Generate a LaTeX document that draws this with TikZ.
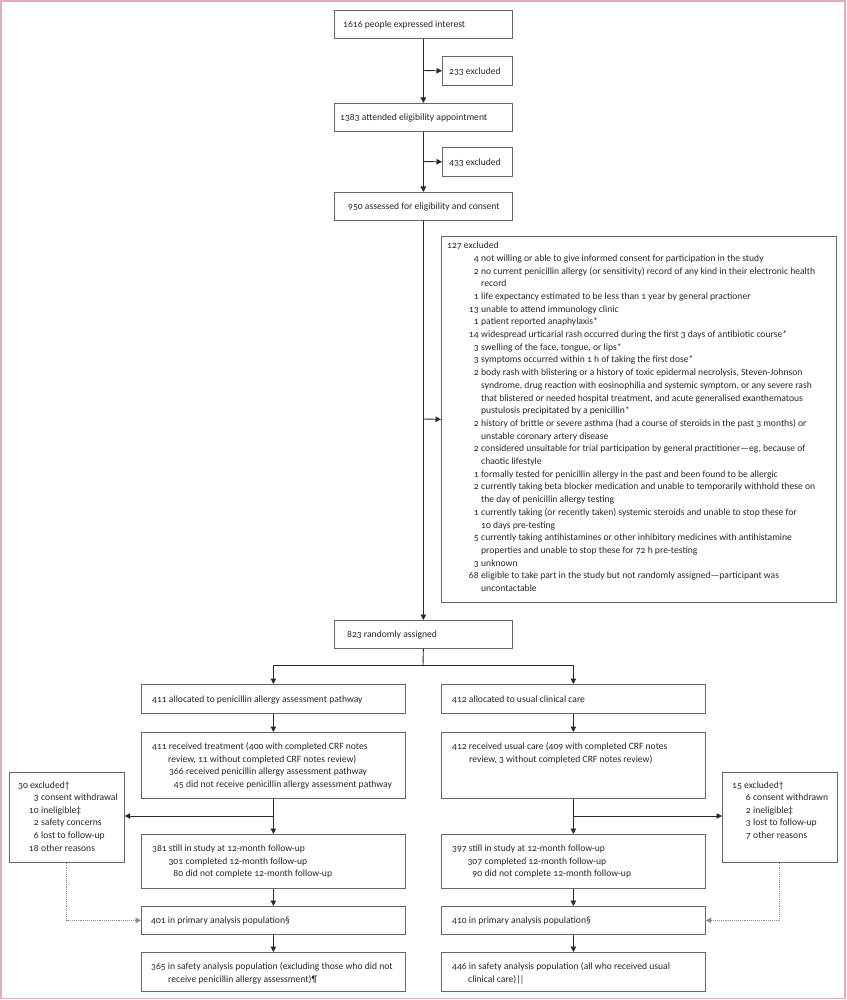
\documentclass[tikz,border=0pt]{standalone}
\usepackage{fontspec}
\setmainfont{Carlito}[Numbers=OldStyle]
\usetikzlibrary{arrows.meta,calc}
\definecolor{framec}{HTML}{E2A9C1}
\definecolor{boxc}{HTML}{666666}
\definecolor{txtc}{HTML}{262626}
\definecolor{linec}{HTML}{2A2A2A}
\definecolor{dotc}{HTML}{8A8A8A}
\newcommand{\nb}[2]{\makebox[#1][r]{#2}\hspace{2.5pt}}
\newcommand{\ind}[1]{\hspace*{#1}}
\newcommand{\fs}{\rule{0pt}{8pt}}
\begin{document}
\begin{tikzpicture}[x=1pt,y=-1pt,
  box/.style={draw=boxc, line width=0.7pt, anchor=north west, inner sep=0pt},
  txt/.style={anchor=north west, inner sep=0pt, align=left, text=txtc, font=\fontsize{9.6}{12.6}\selectfont},
  bigtxt/.style={txt, font=\fontsize{9.6}{12.7}\selectfont},
  arr/.style={draw=linec, line width=0.9pt, -{Triangle[length=5.5pt,width=5.5pt]}},
  ln/.style={draw=linec, line width=0.9pt},
  dotarr/.style={draw=dotc, line width=0.9pt, densely dotted, -{Triangle[length=5.5pt,width=5.5pt]}}]
\useasboundingbox (0,0) rectangle (846,1000);
\draw[draw=framec, line width=1.2pt] (1,1) rectangle (845,998.5);

% boxes
\node[box, minimum width=178pt, minimum height=28pt] (A) at (334,10) {};
\node[box, minimum width=70pt, minimum height=29pt] (E1) at (442,56) {};
\node[box, minimum width=178pt, minimum height=28pt] (B) at (334,103) {};
\node[box, minimum width=70pt, minimum height=29pt] (E2) at (442,147) {};
\node[box, minimum width=178pt, minimum height=28pt] (C) at (334,192) {};
\node[box, minimum width=395pt, minimum height=366pt] (E3) at (441,236) {};
\node[box, minimum width=178pt, minimum height=28pt] (D) at (334,620) {};
\node[box, minimum width=264pt, minimum height=29pt] (L1) at (141,684) {};
\node[box, minimum width=264pt, minimum height=29pt] (R1) at (441,684) {};
\node[box, minimum width=264pt, minimum height=66pt] (L2) at (141,732) {};
\node[box, minimum width=264pt, minimum height=66pt] (R2) at (441,732) {};
\node[box, minimum width=115pt, minimum height=90pt] (LX) at (9,772) {};
\node[box, minimum width=115pt, minimum height=90pt] (RX) at (722,772) {};
\node[box, minimum width=264pt, minimum height=54pt] (L3) at (141,834) {};
\node[box, minimum width=264pt, minimum height=54pt] (R3) at (441,834) {};
\node[box, minimum width=264pt, minimum height=28pt] (L4) at (141,906) {};
\node[box, minimum width=264pt, minimum height=28pt] (R4) at (441,906) {};
\node[box, minimum width=264pt, minimum height=39pt] (L5) at (141,952) {};
\node[box, minimum width=264pt, minimum height=39pt] (R5) at (441,952) {};

% texts
\node[txt] (tA) at (343,19.4) {\fs 1616 people expressed interest};
\node[txt] (tE1) at (449,65.9) {\fs 233 excluded};
\node[txt] (tB) at (340,112.4) {\fs 1383 attended eligibility appointment};
\node[txt] (tE2) at (449,156.9) {\fs 433 excluded};
\node[txt] (tC) at (348,201.4) {\fs 950 assessed for eligibility and consent};
\node[bigtxt] (tE3) at (447,240.4) {\fs 127 excluded\\
\nb{31.5pt}{4}not willing or able to give informed consent for participation in the study\\
\nb{31.5pt}{2}no current penicillin allergy (or sensitivity) record of any kind in their electronic health\\
\ind{34pt}record\\
\nb{31.5pt}{1}life expectancy estimated to be less than 1 year by general practioner\\
\nb{31.5pt}{13}unable to attend immunology clinic\\
\nb{31.5pt}{1}patient reported anaphylaxis*\\
\nb{31.5pt}{14}widespread urticarial rash occurred during the first 3 days of antibiotic course*\\
\nb{31.5pt}{3}swelling of the face, tongue, or lips*\\
\nb{31.5pt}{3}symptoms occurred within 1 h of taking the first dose*\\
\nb{31.5pt}{2}body rash with blistering or a history of toxic epidermal necrolysis, Steven-Johnson\\
\ind{34pt}syndrome, drug reaction with eosinophilia and systemic symptom, or any severe rash\\
\ind{34pt}that blistered or needed hospital treatment, and acute generalised exanthematous\\
\ind{34pt}pustulosis precipitated by a penicillin*\\
\nb{31.5pt}{2}history of brittle or severe asthma (had a course of steroids in the past 3 months) or\\
\ind{34pt}unstable coronary artery disease\\
\nb{31.5pt}{2}considered unsuitable for trial participation by general practitioner—eg, because of\\
\ind{34pt}chaotic lifestyle\\
\nb{31.5pt}{1}formally tested for penicillin allergy in the past and been found to be allergic\\
\nb{31.5pt}{2}currently taking beta blocker medication and unable to temporarily withhold these on\\
\ind{34pt}the day of penicillin allergy testing\\
\nb{31.5pt}{1}currently taking (or recently taken) systemic steroids and unable to stop these for\\
\ind{34pt}10 days pre-testing\\
\nb{31.5pt}{5}currently taking antihistamines or other inhibitory medicines with antihistamine\\
\ind{34pt}properties and unable to stop these for 72 h pre-testing\\
\nb{31.5pt}{3}unknown\\
\nb{31.5pt}{68}eligible to take part in the study but not randomly assigned—participant was\\
\ind{34pt}uncontactable};
\node[txt] (tD) at (347,629.4) {\fs 823 randomly assigned};
\node[txt] (tL1) at (152,693.9) {\fs 411 allocated to penicillin allergy assessment pathway};
\node[txt] (tR1) at (452,693.9) {\fs 412 allocated to usual clinical care};
\node[txt] (tL2) at (152,741.4) {\fs 411 received treatment (400 with completed CRF notes\\
\ind{16pt}review, 11 without completed CRF notes review)\\
\nb{31.5pt}{366}received penicillin allergy assessment pathway\\
\nb{31.5pt}{45}did not receive penicillin allergy assessment pathway};
\node[txt] (tR2) at (452,741.4) {\fs 412 received usual care (409 with completed CRF notes\\
\ind{17pt}review, 3 without completed CRF notes review)};
\node[txt] (tLX) at (18,779.9) {\fs 30 excluded†\\
\nb{20.5pt}{3}consent withdrawal\\
\nb{20.5pt}{10}ineligible‡\\
\nb{20.5pt}{2}safety concerns\\
\nb{20.5pt}{6}lost to follow-up\\
\nb{20.5pt}{18}other reasons};
\node[txt] (tRX) at (732,779.9) {\fs 15 excluded†\\
\nb{18.5pt}{6}consent withdrawn\\
\nb{18.5pt}{2}ineligible‡\\
\nb{18.5pt}{3}lost to follow-up\\
\nb{18.5pt}{7}other reasons};
\node[txt] (tL3) at (152,843.4) {\fs 381 still in study at 12-month follow-up\\
\nb{31pt}{301}completed 12-month follow-up\\
\nb{31pt}{80}did not complete 12-month follow-up};
\node[txt] (tR3) at (452,843.4) {\fs 397 still in study at 12-month follow-up\\
\nb{30pt}{307}completed 12-month follow-up\\
\nb{30pt}{90}did not complete 12-month follow-up};
\node[txt] (tL4) at (151,915.4) {\fs 401 in primary analysis population§};
\node[txt] (tR4) at (452,915.4) {\fs 410 in primary analysis population§};
\node[txt] (tL5) at (151,961.4) {\fs 365 in safety analysis population (excluding those who did not\\
\ind{17pt}receive penicillin allergy assessment)¶};
\node[txt] (tR5) at (452,961.4) {\fs 446 in safety analysis population (all who received usual\\
\ind{16pt}clinical care)|\kern-0.9pt|};

% connectors
\coordinate (j1) at (423,70.5);
\coordinate (j2) at (423,161.5);
\coordinate (j3) at (423,419);
\coordinate (j4) at (423,665);
\coordinate (j5) at (273,816);
\coordinate (j6) at (573,816);
\draw[arr] (A.south) -- (B.north);
\draw[arr] (j1) -- (E1.west);
\draw[arr] (B.south) -- (C.north);
\draw[arr] (j2) -- (E2.west);
\draw[arr] (C.south) -- (D.north);
\draw[arr] (j3) -- (E3.west);
\draw[ln] (D.south) -- (j4);
\draw[arr] (j4) -| (L1.north);
\draw[arr] (j4) -| (R1.north);
\draw[arr] (L1.south) -- (L2.north);
\draw[arr] (R1.south) -- (R2.north);
\draw[arr] (L2.south) -- (L3.north);
\draw[arr] (R2.south) -- (R3.north);
\draw[arr] (j5) -- (j5 -| LX.east);
\draw[arr] (j6) -- (j6 -| RX.west);
\draw[arr] (L3.south) -- (L4.north);
\draw[arr] (R3.south) -- (R4.north);
\draw[arr] (L4.south) -- (L5.north);
\draw[arr] (R4.south) -- (R5.north);
\draw[dotarr] (LX.south) |- (L4.west);
\draw[dotarr] (RX.south) |- (R4.east);
\end{tikzpicture}
\end{document}
